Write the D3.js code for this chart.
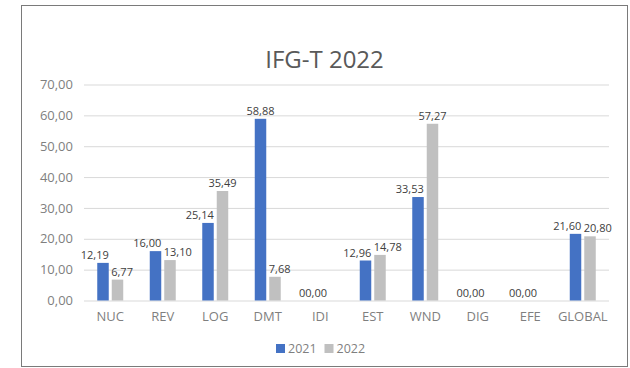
<!DOCTYPE html>
<html>
<head>
<meta charset="utf-8">
<script src="https://cdn.jsdelivr.net/npm/d3@7"></script>
<style>
  html, body { margin: 0; padding: 0; background: #ffffff; }
  svg { display: block; font-family: "Open Sans", "Noto Sans", sans-serif; }
</style>
</head>
<body>
<svg id="chart" width="630" height="368"></svg>
<script>
// Indicator scores per area, 2021 vs 2022
const categories = ["NUC", "REV", "LOG", "DMT", "IDI", "EST", "WND", "DIG", "EFE", "GLOBAL"];
const series = ["2021", "2022"];
const values2021 = [12.19, 16.00, 25.14, 58.88, 0, 12.96, 33.53, 0, 0, 21.60];
const values2022 = [6.77, 13.10, 35.49, 7.68, null, 14.78, 57.27, null, null, 20.80];
const yTicks = [0, 10, 20, 30, 40, 50, 60, 70];
const title = "IFG-T 2022";

const colors = { "2021": "#4472C4", "2022": "#C0C0C0" };

const svg = d3.select("#chart");
const plot = { left: 84, right: 609, top: 84.5, bottom: 300.5 };

// outer frame
svg.append("rect")
  .attr("x", 21.5).attr("y", 5.5)
  .attr("width", 606).attr("height", 361)
  .attr("fill", "#ffffff")
  .attr("stroke", "#7a7a7a").attr("stroke-width", 1);

// title
svg.append("text")
  .attr("x", 324.5).attr("y", 67.5)
  .attr("text-anchor", "middle")
  .attr("font-size", 24)
  .attr("fill", "#595959")
  .text(title);

const x = d3.scaleBand()
  .domain(categories)
  .range([plot.left, plot.right])
  .paddingInner(0.505)
  .paddingOuter(0.2524);

const xs = d3.scaleBand()
  .domain(series)
  .range([0, x.bandwidth()])
  .paddingInner(0.207);

const y = d3.scaleLinear()
  .domain([0, 70])
  .range([plot.bottom, plot.top]);

const fmt = v => v === 0 ? "00,00" : d3.format(".2f")(v).replace(".", ",");

// gridlines and value axis
const yAxis = d3.axisLeft(y)
  .tickValues(yTicks)
  .tickSize(-(plot.right - plot.left))
  .tickPadding(11)
  .tickFormat(d => d3.format(".2f")(d).replace(".", ","));

const gy = svg.append("g")
  .attr("transform", `translate(${plot.left},0)`)
  .call(yAxis);
gy.select(".domain").remove();
gy.selectAll(".tick line").attr("stroke", "#d9d9d9").attr("stroke-width", 1);
gy.selectAll(".tick text")
  .attr("fill", "#7f7f7f")
  .attr("font-size", 13)
  .attr("font-family", "Open Sans, sans-serif");

// category axis
const xAxis = d3.axisBottom(x).tickSize(0).tickPadding(11);
const gx = svg.append("g")
  .attr("transform", `translate(0,${plot.bottom})`)
  .call(xAxis);
gx.select(".domain").remove();
gx.selectAll(".tick text")
  .attr("fill", "#7f7f7f")
  .attr("font-size", 13)
  .attr("font-family", "Open Sans, sans-serif");

// bars
const rows = categories.map((c, i) => ({
  cat: c,
  vals: [
    { s: "2021", v: values2021[i] },
    { s: "2022", v: values2022[i] }
  ]
}));

const groups = svg.append("g").selectAll("g")
  .data(rows)
  .join("g")
  .attr("transform", d => `translate(${x(d.cat)},0)`);

groups.selectAll("rect")
  .data(d => d.vals.filter(e => e.v !== null))
  .join("rect")
  .attr("x", e => xs(e.s))
  .attr("width", xs.bandwidth())
  .attr("y", e => y(e.v))
  .attr("height", e => y(0) - y(e.v))
  .attr("fill", e => colors[e.s]);

// data labels: the taller bar of a pair keeps a centred label when it is
// clearly higher, otherwise the two labels are pushed apart from each other
groups.each(function (d) {
  const g = d3.select(this);
  const a = d.vals[0].v, b = d.vals[1].v;
  const both = a !== null && b !== null && a > 0 && b > 0;
  d.vals.forEach((e, k) => {
    if (e.v === null) return;
    const left = xs(e.s), right = left + xs.bandwidth(), mid = (left + right) / 2;
    let anchor = "middle", lx = mid;
    if (both) {
      const other = k === 0 ? b : a;
      const dominant = e.v - other > 8;
      if (!dominant) {
        if (k === 0) { anchor = "end"; lx = right; }
        else { anchor = "start"; lx = left - 0.5; }
      }
    }
    g.append("text")
      .attr("x", lx)
      .attr("y", y(e.v) - 4)
      .attr("text-anchor", anchor)
      .attr("font-size", 11)
      .attr("fill", "#404040")
      .text(fmt(e.v));
  });
});

// legend
const legend = svg.append("g").attr("transform", "translate(276,344)");
const items = [{ s: "2021", x: 0 }, { s: "2022", x: 48.5 }];
items.forEach(it => {
  legend.append("rect")
    .attr("x", it.x).attr("y", 0)
    .attr("width", 9).attr("height", 9)
    .attr("fill", colors[it.s]);
  legend.append("text")
    .attr("x", it.x + 12).attr("y", 9)
    .attr("font-size", 12.5)
    .attr("fill", "#7f7f7f")
    .text(it.s);
});
</script>
</body>
</html>
